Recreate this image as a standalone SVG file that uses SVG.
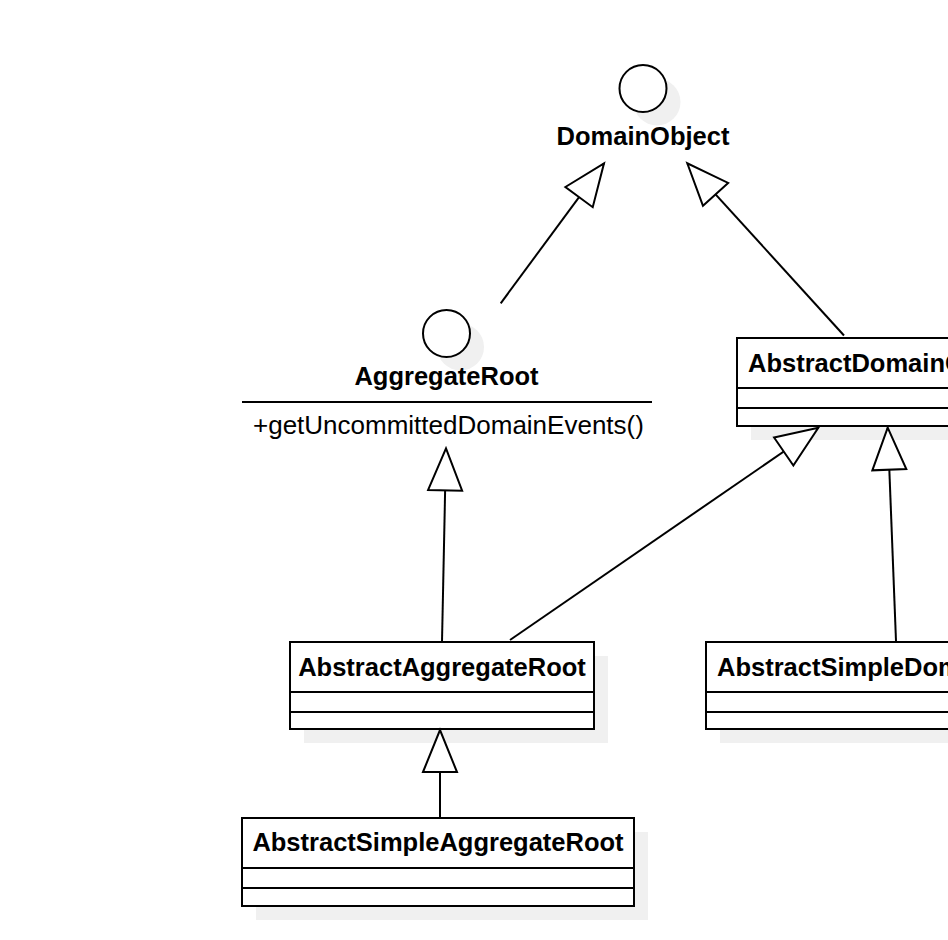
<svg xmlns="http://www.w3.org/2000/svg" width="948" height="940" viewBox="0 0 948 940">
  <style>
    .box { fill: #ffffff; stroke: #000000; stroke-width: 2; }
    .shadow { fill: #f0f0f0; stroke: none; }
    .div { stroke: #000000; stroke-width: 2; fill: none; }
    .title { font-family: "Liberation Sans", Arial, sans-serif; font-weight: bold; font-size: 25.5px; fill: #000000; }
    .member { font-family: "Liberation Sans", Arial, sans-serif; font-size: 26px; fill: #000000; }
    .edge { stroke: #000000; stroke-width: 2; fill: none; marker-end: url(#gen); }
  </style>
  <defs>
    <marker id="gen" markerUnits="userSpaceOnUse" orient="auto" markerWidth="48" markerHeight="40" refX="44" refY="19" viewBox="0 0 48 40">
      <path d="M2,2 L44,19 L2,36 Z" fill="#ffffff" stroke="#000000" stroke-width="2" stroke-linejoin="miter"/>
    </marker>
  </defs>
  <rect width="948" height="940" fill="#ffffff"/>

  <g id="DomainObject">
    <circle class="shadow" cx="657" cy="102" r="23.5"/>
    <circle class="box" cx="643" cy="88.5" r="23.5"/>
    <text class="title" x="643" y="145" text-anchor="middle">DomainObject</text>
  </g>

  <g id="AggregateRoot">
    <circle class="shadow" cx="460.5" cy="347" r="23.5"/>
    <circle class="box" cx="446.5" cy="333.5" r="23.5"/>
    <text class="title" x="446.5" y="385" text-anchor="middle">AggregateRoot</text>
    <line class="div" x1="242" y1="402" x2="652" y2="402"/>
    <text class="member" x="253" y="434">+getUncommittedDomainEvents()</text>
  </g>

  <g id="AbstractDomainObject">
    <rect class="shadow" x="751" y="352" width="300" height="88"/>
    <rect class="box" x="737" y="338" width="300" height="88"/>
    <line class="div" x1="737" y1="388" x2="1037" y2="388"/>
    <line class="div" x1="737" y1="408" x2="1037" y2="408"/>
    <text class="title" x="748" y="372">AbstractDomainObject</text>
  </g>

  <g id="AbstractAggregateRoot">
    <rect class="shadow" x="304" y="656" width="304" height="87"/>
    <rect class="box" x="290" y="642" width="304" height="87"/>
    <line class="div" x1="290" y1="692" x2="594" y2="692"/>
    <line class="div" x1="290" y1="712" x2="594" y2="712"/>
    <text class="title" x="442" y="675.5" text-anchor="middle">AbstractAggregateRoot</text>
  </g>

  <g id="AbstractSimpleDomainObject">
    <rect class="shadow" x="720" y="656" width="382" height="87"/>
    <rect class="box" x="706" y="642" width="382" height="87"/>
    <line class="div" x1="706" y1="692" x2="1088" y2="692"/>
    <line class="div" x1="706" y1="712" x2="1088" y2="712"/>
    <text class="title" x="717" y="675.5">AbstractSimpleDomainObject</text>
  </g>

  <g id="AbstractSimpleAggregateRoot">
    <rect class="shadow" x="256" y="832" width="392" height="88"/>
    <rect class="box" x="242" y="818" width="392" height="88"/>
    <line class="div" x1="242" y1="868" x2="634" y2="868"/>
    <line class="div" x1="242" y1="888" x2="634" y2="888"/>
    <text class="title" x="438" y="850.5" text-anchor="middle">AbstractSimpleAggregateRoot</text>
  </g>

  <g id="connectors">
    <path class="edge" d="M500.7,303.3 L604,163.3"/>
    <path class="edge" d="M844,335.5 L687.3,163.3"/>
    <path class="edge" d="M442,642 L446,448.3"/>
    <path class="edge" d="M510,640 L818.3,427.7"/>
    <path class="edge" d="M896,641 L887.7,427.7"/>
    <path class="edge" d="M440,818 L440,730"/>
  </g>
</svg>
